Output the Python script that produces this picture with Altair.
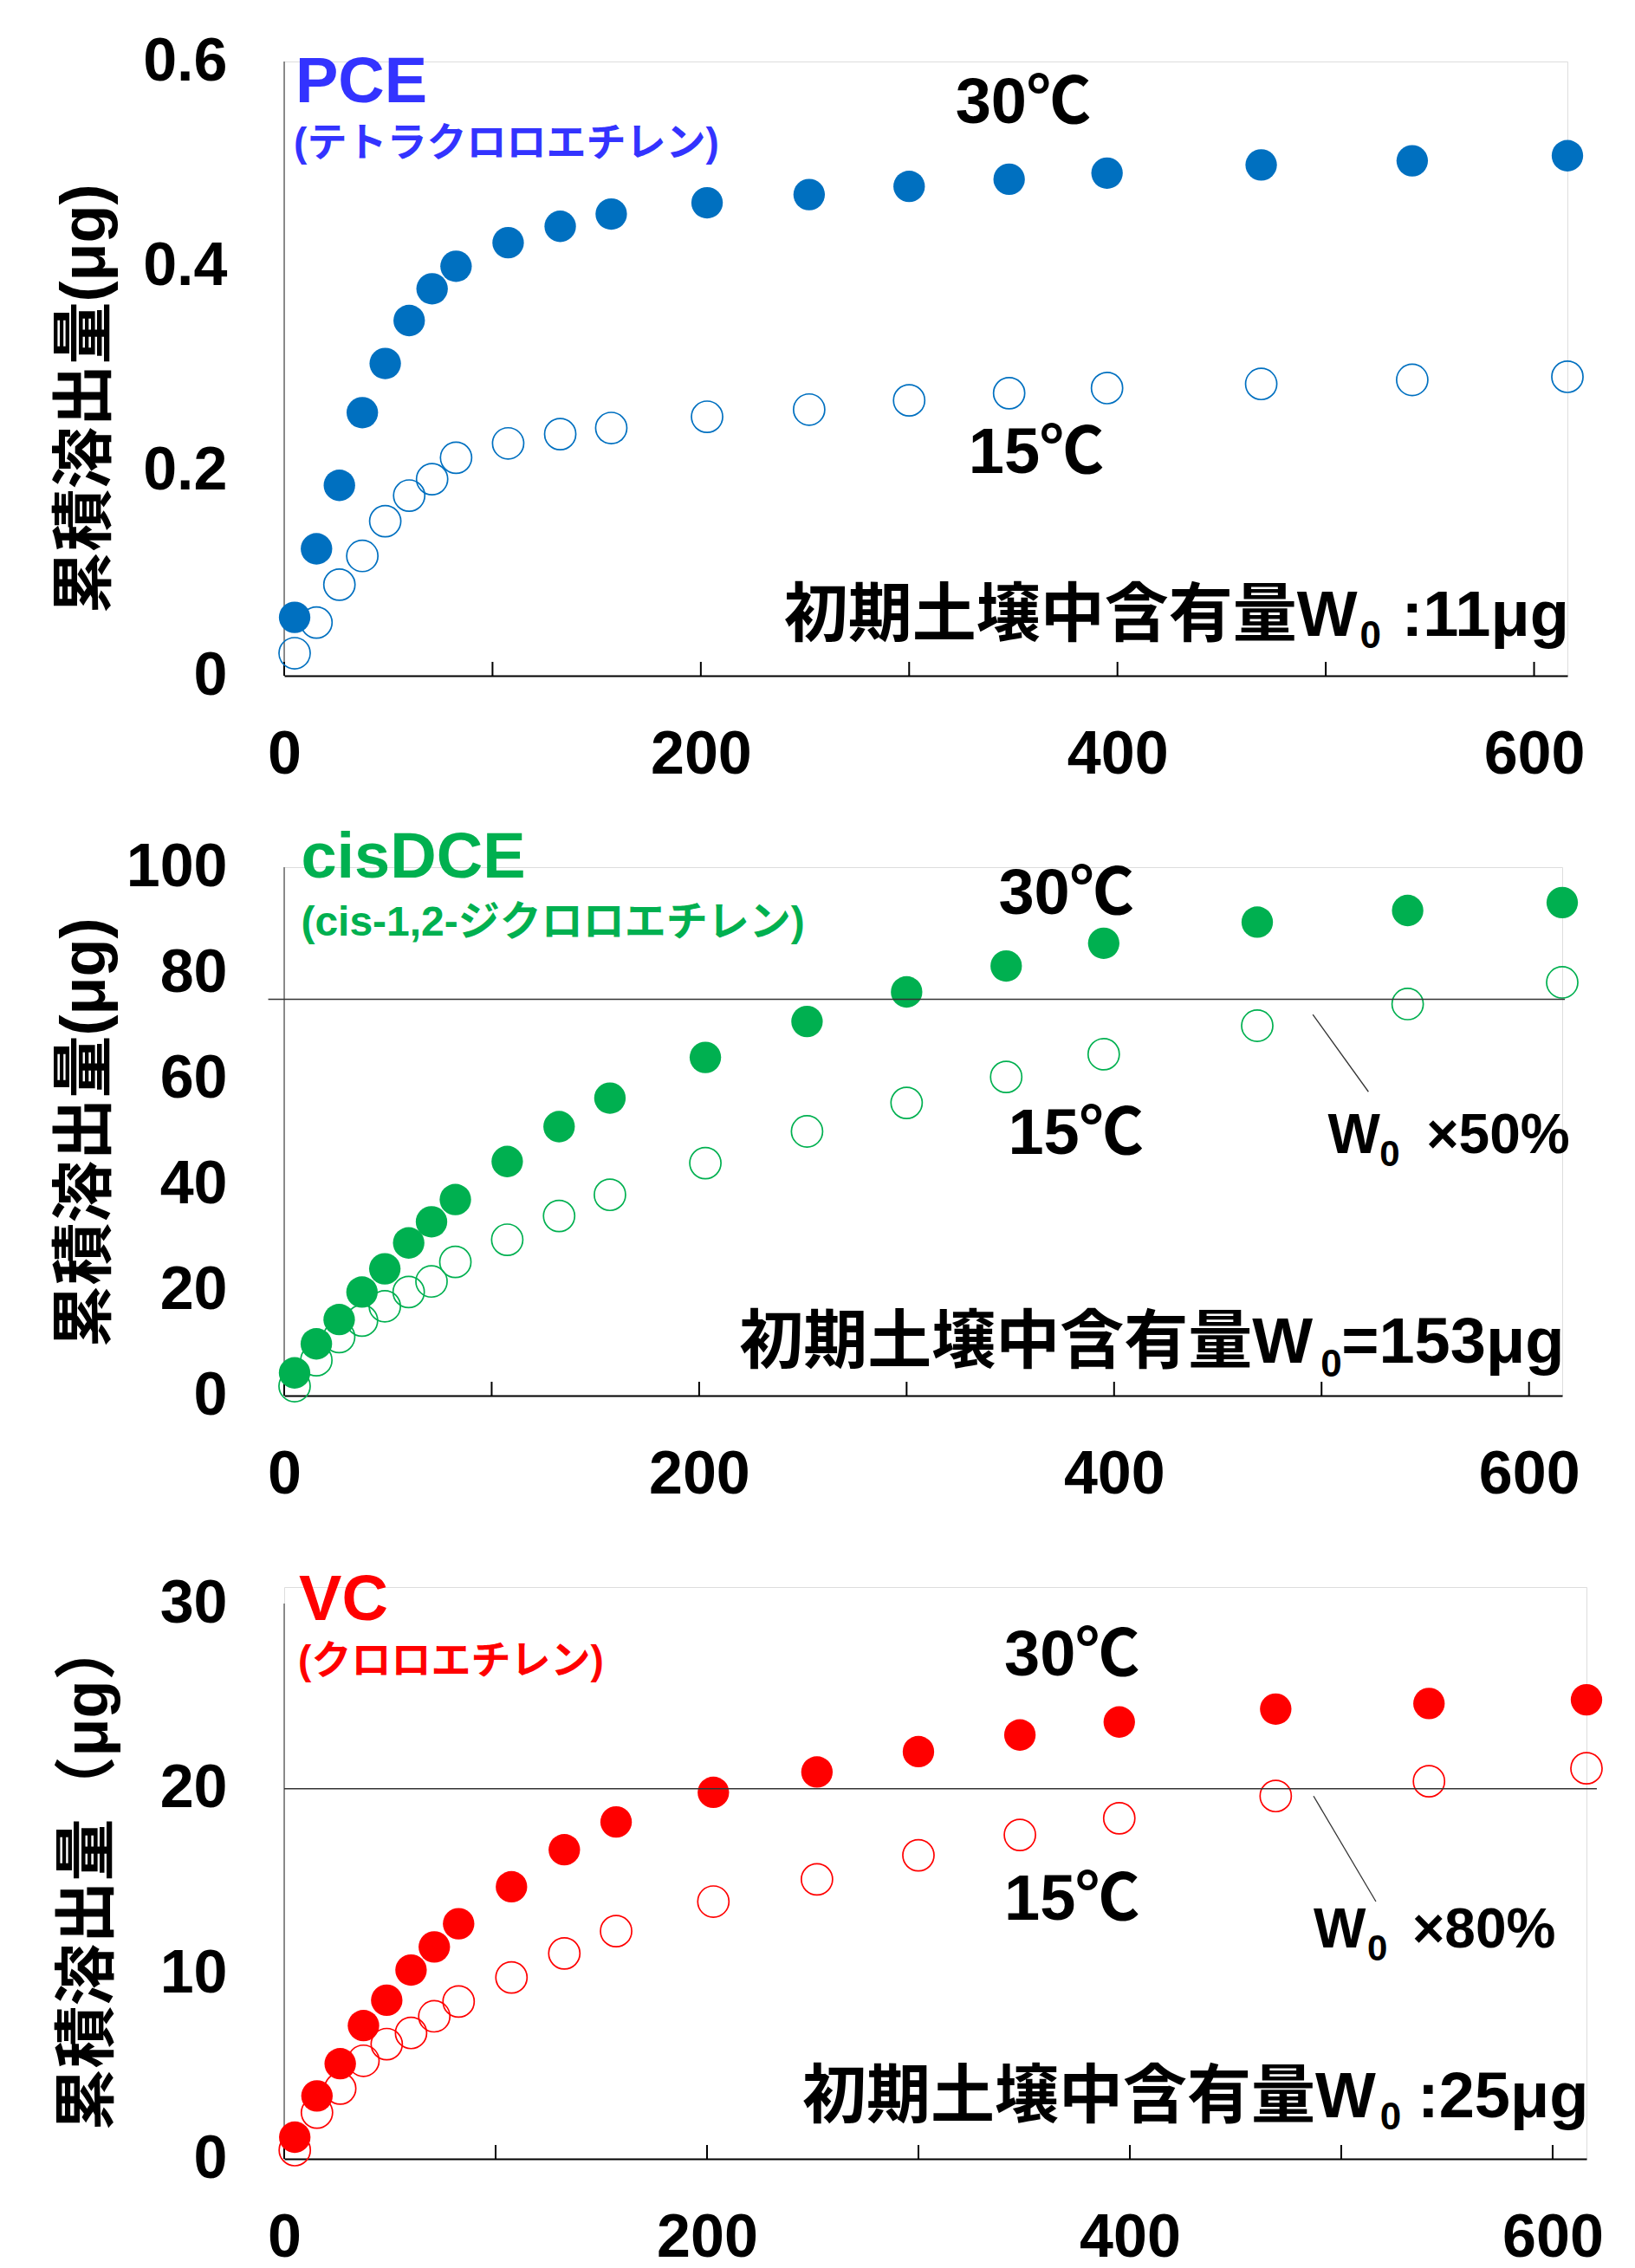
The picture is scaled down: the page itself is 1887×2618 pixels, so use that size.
import altair as alt
import pandas as pd

FONT = "Liberation Sans, Noto Sans CJK JP"

# elapsed days (x) shared by all three panels
days = [5, 15.5, 26.5, 37.5, 48.5, 60, 71, 82.5, 107.5, 132.5, 157, 203, 252, 300, 348, 395, 469, 541.5, 616]

pce_30 = [0.057, 0.124, 0.186, 0.257, 0.305, 0.347, 0.378, 0.400, 0.423, 0.439, 0.451, 0.462, 0.470, 0.478, 0.485, 0.491, 0.499, 0.503, 0.508]
pce_15 = [0.022, 0.052, 0.089, 0.117, 0.151, 0.176, 0.192, 0.213, 0.227, 0.236, 0.242, 0.253, 0.260, 0.269, 0.276, 0.281, 0.285, 0.289, 0.292]
dce_30 = [4.3, 9.8, 14.4, 19.6, 24.0, 28.9, 32.9, 37.1, 44.3, 50.9, 56.3, 64.0, 70.8, 76.4, 81.3, 85.6, 89.6, 91.8, 93.3]
dce_15 = [1.8, 6.7, 11.1, 14.2, 16.9, 19.6, 21.6, 25.3, 29.5, 34.0, 38.0, 44.0, 50.0, 55.4, 60.3, 64.6, 70.0, 74.1, 78.2]
vc_30 = [1.17, 3.4, 5.14, 7.2, 8.57, 10.2, 11.45, 12.7, 14.7, 16.7, 18.2, 19.8, 20.9, 22.0, 22.9, 23.6, 24.3, 24.6, 24.8]
vc_15 = [0.47, 2.5, 3.8, 5.3, 6.2, 6.8, 7.7, 8.5, 9.8, 11.1, 12.3, 13.9, 15.1, 16.4, 17.5, 18.4, 19.6, 20.4, 21.1]

x_ticks = [0, 100, 200, 300, 400, 500, 600]
x_labels = [0, 200, 400, 600]

pce_yticks = [0, 0.2, 0.4, 0.6]
dce_yticks = [0, 20, 40, 60, 80, 100]
vc_yticks = [0, 10, 20, 30]

BLK = "#000000"
PCE_C, PCE_L = "#0070C0", "#3333FF"
DCE_C = "#00B050"
VC_C = "#FF0000"

pce_ann_text = ["PCE", "(テトラクロロエチレン)", "30℃", "15℃", "初期土壌中含有量W", "0", ":11μg"]
pce_ann_x = [5.4, 4.6, 322.2, 328.5, 239.9, 516.4, 536.4]
pce_ann_y = [0.560, 0.508, 0.540, 0.198, 0.039, 0.027, 0.039]
pce_ann_size = [74, 46, 74, 74, 74, 44, 74]
pce_ann_color = [PCE_L, PCE_L, BLK, BLK, BLK, BLK, BLK]

dce_ann_text = ["cisDCE", "(cis-1,2-ジクロロエチレン)", "30℃", "15℃", "初期土壌中含有量W", "0", "=153μg", "W", "0", "×50%"]
dce_ann_x = [8.1, 8.1, 344.3, 348.9, 219.4, 499.6, 509.6, 503.0, 528.0, 550.5]
dce_ann_y = [98.0, 87.0, 91.1, 45.7, 6.2, 3.6, 6.2, 45.9, 43.4, 45.9]
dce_ann_size = [74, 48, 74, 74, 74, 44, 74, 64, 42, 64]
dce_ann_color = [DCE_C, DCE_C, BLK, BLK, BLK, BLK, BLK, BLK, BLK, BLK]

vc_ann_text = ["VC", "(クロロエチレン)", "30℃", "15℃", "初期土壌中含有量W", "0", ":25μg", "W", "0", "×80%"]
vc_ann_x = [7.0, 6.6, 340.6, 340.6, 245.1, 518.4, 536.1, 486.9, 512.3, 533.6]
vc_ann_y = [29.1, 26.2, 26.1, 12.9, 2.25, 1.6, 2.25, 11.4, 10.7, 11.4]
vc_ann_size = [74, 46, 74, 74, 74, 44, 74, 64, 42, 64]
vc_ann_color = [VC_C, VC_C, BLK, BLK, BLK, BLK, BLK, BLK, BLK, BLK]

dce_hline = [75.0]
dce_hline_x = [-7.7, 617.3]
dce_leader_x = [495.8, 522.6]
dce_leader_y = [72.1, 57.5]

vc_hline = [20.0]
vc_hline_x = [0, 620.9]
vc_leader_x = [486.9, 516.4]
vc_leader_y = [19.6, 13.9]


def make_panel(c30, c15, pcol, ydom, yticks, yfmt, ytop, ytitle, width, height,
               title_x, title_y, ann, hline=None, hline_x=None, leader_x=None, leader_y=None):
    xscale = alt.Scale(domain=[0, 616], nice=False, zero=False)
    yscale = alt.Scale(domain=ydom, nice=False, zero=False)
    xaxis = alt.Axis(values=x_labels, ticks=False, grid=False, domainColor=BLK, domainWidth=2,
                     labelFont=FONT, labelFontSize=70, labelFontWeight="bold", labelColor=BLK,
                     labelPadding=57, labelFlush=False, title=None, format="d")
    yaxis = alt.Axis(values=yticks, ticks=False, grid=False, domain=False,
                     labelFont=FONT, labelFontSize=70, labelFontWeight="bold", labelColor=BLK,
                     labelPadding=66, format=yfmt, title=ytitle, titleFont=FONT,
                     titleFontSize=72, titleFontWeight="bold", titleColor=BLK,
                     titleAngle=270, titleAlign="center", titleBaseline="middle",
                     titleX=title_x, titleY=title_y)

    def X(f):
        return alt.X(f, type="quantitative", scale=xscale, axis=xaxis)

    def Y(f):
        return alt.Y(f, type="quantitative", scale=yscale, axis=yaxis)

    pts = pd.DataFrame({"day": days, "v30": c30, "v15": c15})
    open_pts = alt.Chart(pts).mark_point(shape="circle", filled=False, size=1300,
                                         strokeWidth=1.7, color=pcol, opacity=1).encode(x=X("day"), y=Y("v15"))
    fill_pts = alt.Chart(pts).mark_circle(size=1320, color=pcol, opacity=1).encode(x=X("day"), y=Y("v30"))

    ticks = alt.Chart(pd.DataFrame({"t": x_ticks})).mark_rule(color=BLK, strokeWidth=2).encode(
        x=X("t"), y=alt.value(height), y2=alt.value(height - 16))
    yline = alt.Chart(pd.DataFrame({"x": [0], "y0": [0], "y1": [ytop]})).mark_rule(
        color="#555555", strokeWidth=1.3).encode(x=X("x"), y=Y("y0"), y2="y1:Q")

    txt = alt.Chart(ann).mark_text(align="left", baseline="alphabetic", font=FONT, fontWeight="bold").encode(
        x=X("x"), y=Y("y"), text="t:N",
        size=alt.Size("s:Q", scale=None), color=alt.Color("c:N", scale=None))

    layers = [yline, ticks, open_pts, fill_pts, txt]
    if hline is not None:
        hdf = pd.DataFrame({"x0": [hline_x[0]], "x1": [hline_x[1]], "y": hline})
        layers.append(alt.Chart(hdf).mark_rule(color="#333333", strokeWidth=1.6).encode(
            x=X("x0"), x2="x1:Q", y=Y("y")))
        ldf = pd.DataFrame({"x0": [leader_x[0]], "x1": [leader_x[1]], "y0": [leader_y[0]], "y1": [leader_y[1]]})
        layers.append(alt.Chart(ldf).mark_rule(color="#333333", strokeWidth=1.3).encode(
            x=X("x0"), x2="x1:Q", y=Y("y0"), y2="y1:Q"))
    return alt.layer(*layers).properties(width=width, height=height)


def ann_df(t, x, y, s, c):
    return pd.DataFrame({"t": t, "x": x, "y": y, "s": s, "c": c})


p1 = make_panel(pce_30, pce_15, PCE_C, [0, 0.6], pce_yticks, "~g", 0.6, "累積溶出量(μg)", 1481, 709,
                -230, 389, ann_df(pce_ann_text, pce_ann_x, pce_ann_y, pce_ann_size, pce_ann_color))
p2 = make_panel(dce_30, dce_15, DCE_C, [0, 100], dce_yticks, "d", 100, "累積溶出量(μg)", 1475, 610,
                -230, 306, ann_df(dce_ann_text, dce_ann_x, dce_ann_y, dce_ann_size, dce_ann_color),
                dce_hline, dce_hline_x, dce_leader_x, dce_leader_y)
p3 = make_panel(vc_30, vc_15, VC_C, [0, 30.89], vc_yticks, "d", 30, "累積溶出量（μg）", 1503, 660,
                -227, 331, ann_df(vc_ann_text, vc_ann_x, vc_ann_y, vc_ann_size, vc_ann_color),
                vc_hline, vc_hline_x, vc_leader_x, vc_leader_y)

chart = alt.vconcat(p1, p2, p3, spacing=221, bounds="flush").properties(
    padding={"top": 27, "left": 53, "right": 5, "bottom": 5}
).configure_view(stroke=None).configure(background="white")

chart.save("out.html", embed_options={"renderer": "svg", "actions": False})
